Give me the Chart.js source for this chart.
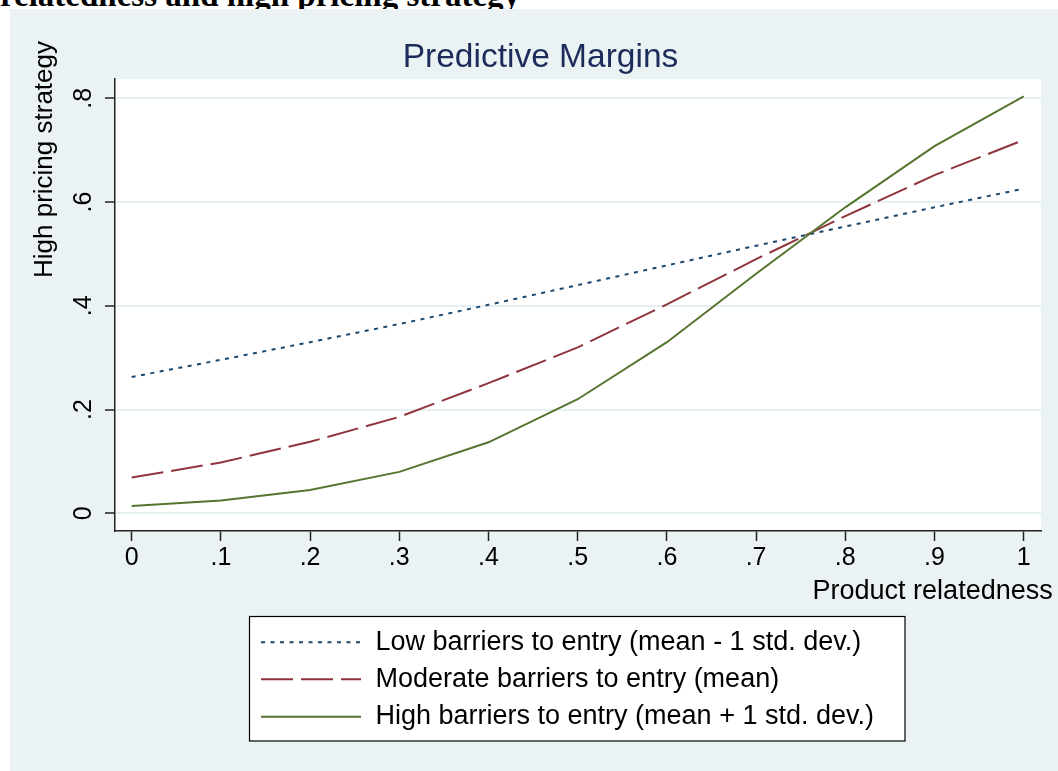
<!DOCTYPE html>
<html>
<head>
<meta charset="utf-8">
<script src="https://cdn.jsdelivr.net/npm/chart.js@4.4.0/dist/chart.umd.min.js"></script>
<style>
  body { margin: 0; background: #fff; width: 1058px; height: 771px; overflow: hidden; position: relative; }
  #caption { position: absolute; left: 0; top: 0; width: 1058px; height: 9px; overflow: hidden; }
  #caption span { position: absolute; left: 0; top: -21px; font: bold 33px/33px "Liberation Serif", "Times New Roman", serif; white-space: nowrap; color: #000; }
  #panel { position: absolute; left: 10px; top: 9px; width: 1048px; height: 762px; background: #eaf2f3; }
</style>
</head>
<body>
<div id="caption"><span>relatedness and high pricing strategy</span></div>
<div id="panel"><canvas id="margins"></canvas></div>
<script>
/* valores */
const xValues = [0, 0.1, 0.2, 0.3, 0.4, 0.5, 0.6, 0.7, 0.8, 0.9, 1];
const lowBarriers = [0.263, 0.296, 0.330, 0.365, 0.402, 0.440, 0.478, 0.516, 0.553, 0.590, 0.626];
const moderateBarriers = [0.069, 0.098, 0.138, 0.186, 0.251, 0.320, 0.403, 0.490, 0.573, 0.652, 0.720];
const highBarriers = [0.014, 0.025, 0.045, 0.080, 0.137, 0.220, 0.330, 0.462, 0.590, 0.708, 0.804];
const seriesNames = [
  "Low barriers to entry (mean - 1 std. dev.)",
  "Moderate barriers to entry (mean)",
  "High barriers to entry (mean + 1 std. dev.)",
];
const xTicks = [0, 0.1, 0.2, 0.3, 0.4, 0.5, 0.6, 0.7, 0.8, 0.9, 1];
const xTickLabels = ["0", ".1", ".2", ".3", ".4", ".5", ".6", ".7", ".8", ".9", "1"];
const yTicks = [0, 0.2, 0.4, 0.6, 0.8];
const yTickLabels = ["0", ".2", ".4", ".6", ".8"];
const chartTitle = "Predictive Margins";
const xTitle = "Product relatedness";
const yTitle = "High pricing strategy";

const FONT = '"Liberation Sans", Arial, Helvetica, sans-serif';
Chart.defaults.font.family = FONT;
Chart.defaults.color = "#000";

const toPoints = (ys) => ys.map((y, i) => ({ x: xValues[i], y: y }));

/* fondo blanco del area, titulos de ejes y leyenda con recuadro */
const stataFrame = {
  id: "stataFrame",
  beforeDraw(chart) {
    const { ctx, chartArea } = chart;
    ctx.save();
    ctx.fillStyle = "#fff";
    ctx.fillRect(chartArea.left, chartArea.top, chartArea.right - chartArea.left, chartArea.bottom - chartArea.top);
    ctx.restore();
  },
  afterDraw(chart) {
    const ctx = chart.ctx;
    ctx.save();
    ctx.fillStyle = "#000";

    // titulo eje y
    ctx.font = "26px " + FONT;
    ctx.translate(41.7, 269);
    ctx.rotate(-Math.PI / 2);
    ctx.textAlign = "left";
    ctx.textBaseline = "alphabetic";
    ctx.fillText(yTitle, 0, 0);
    ctx.restore();

    ctx.save();
    // titulo eje x
    ctx.font = "27px " + FONT;
    ctx.fillStyle = "#000";
    ctx.textAlign = "right";
    ctx.textBaseline = "alphabetic";
    ctx.fillText(xTitle, 1042.7, 590.3);

    // leyenda
    ctx.fillStyle = "#fff";
    ctx.fillRect(239.5, 607.5, 655.5, 124.5);
    ctx.strokeStyle = "#000";
    ctx.lineWidth = 1.2;
    ctx.strokeRect(239.5, 607.5, 655.5, 124.5);
    const rows = [633.3, 670.3, 707.7];
    chart.data.datasets.forEach((ds, i) => {
      ctx.beginPath();
      ctx.strokeStyle = ds.borderColor;
      ctx.lineWidth = ds.borderWidth;
      ctx.setLineDash(ds.borderDash || []);
      ctx.moveTo(251, rows[i]);
      ctx.lineTo(351, rows[i]);
      ctx.stroke();
      ctx.setLineDash([]);
      ctx.fillStyle = "#000";
      ctx.font = "27px " + FONT;
      ctx.textAlign = "left";
      ctx.textBaseline = "middle";
      ctx.fillText(ds.label, 365.5, rows[i]);
    });
    ctx.restore();
  },
};

const ctx = document.getElementById("margins").getContext("2d");
const margins = new Chart(ctx, {
  type: "line",
  data: {
    datasets: [
      {
        label: seriesNames[0],
        data: toPoints(lowBarriers),
        borderColor: "#1a476f",
        borderWidth: 2,
        borderDash: [4, 5.5],
        pointRadius: 0,
        fill: false,
        order: 3,
      },
      {
        label: seriesNames[1],
        data: toPoints(moderateBarriers),
        borderColor: "#90353b",
        borderWidth: 2,
        borderDash: [32, 8],
        pointRadius: 0,
        fill: false,
        order: 2,
      },
      {
        label: seriesNames[2],
        data: toPoints(highBarriers),
        borderColor: "#55752f",
        borderWidth: 2,
        pointRadius: 0,
        fill: false,
        order: 1,
      },
    ],
  },
  options: {
    responsive: true,
    maintainAspectRatio: false,
    animation: false,
    layout: {
      padding: { left: 30, right: 17, top: 0, bottom: 180 },
    },
    plugins: {
      legend: { display: false },
      tooltip: { enabled: false },
      title: {
        display: true,
        text: chartTitle,
        color: "#1c2b5a",
        font: { size: 33.5, weight: "normal" },
        padding: { top: 28.8, bottom: 1.2 },
      },
    },
    scales: {
      x: {
        type: "linear",
        min: -0.0187,
        max: 1.0194,
        afterBuildTicks: (scale) => {
          scale.ticks = xTicks.map((v) => ({ value: v }));
        },
        afterFit: (scale) => {
          scale.height = 60;
        },
        ticks: {
          autoSkip: false,
          maxRotation: 0,
          padding: 2,
          font: { size: 25 },
          color: "#000",
          callback: (value, index) => xTickLabels[index],
        },
        grid: {
          drawOnChartArea: false,
          drawTicks: true,
          tickLength: 10,
          tickColor: "#222",
          tickWidth: 1.5,
        },
        border: { display: true, color: "#222", width: 1.5 },
      },
      y: {
        type: "linear",
        min: -0.034,
        max: 0.837,
        afterBuildTicks: (scale) => {
          scale.ticks = yTicks.map((v) => ({ value: v }));
        },
        afterFit: (scale) => {
          scale.width = 75;
        },
        ticks: {
          minRotation: 90,
          maxRotation: 90,
          crossAlign: "center",
          padding: 10.6,
          font: { size: 25 },
          color: "#000",
          callback: (value, index) => yTickLabels[index],
        },
        grid: {
          color: "#e6eff1",
          lineWidth: 2,
          drawTicks: true,
          tickLength: 10,
          tickColor: "#222",
          tickWidth: 1.5,
        },
        border: { display: true, color: "#222", width: 1.5 },
      },
    },
  },
  plugins: [stataFrame],
});
</script>
</body>
</html>
